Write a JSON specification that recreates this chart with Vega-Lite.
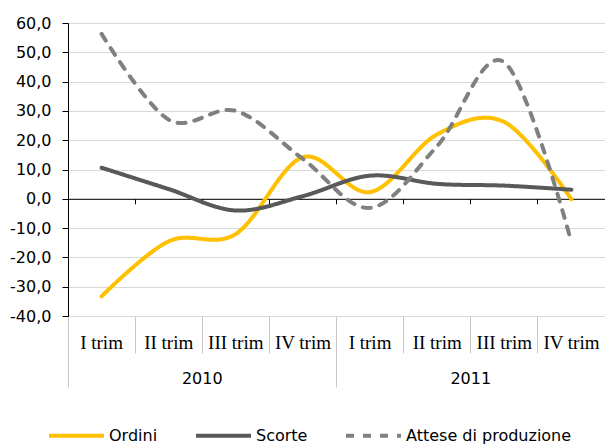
{
  "$schema": "https://vega.github.io/schema/vega-lite/v6.json",
  "width": 537,
  "height": 293,
  "autosize": {"type": "none"},
  "padding": {"left": 68, "top": 23, "right": 0, "bottom": 129},
  "background": "white",
  "config": {
    "view": {"stroke": null},
    "font": "DejaVu Sans",
    "legend": {
      "orient": "none",
      "legendX": -21,
      "legendY": 383,
      "direction": "horizontal",
      "title": null,
      "padding": 0,
      "symbolType": "stroke",
      "symbolSize": 3025,
      "symbolStrokeWidth": 4,
      "labelFont": "DejaVu Sans",
      "labelFontSize": 16,
      "labelColor": "#000000",
      "labelOffset": 3,
      "columnPadding": 30,
      "labelLimit": 0
    }
  },
  "data": {
    "values": [
      {"periodo": "2010 I trim", "serie": "Ordini", "valore": -33.3},
      {"periodo": "2010 II trim", "serie": "Ordini", "valore": -14.5},
      {"periodo": "2010 III trim", "serie": "Ordini", "valore": -12.0},
      {"periodo": "2010 IV trim", "serie": "Ordini", "valore": 14.2},
      {"periodo": "2011 I trim", "serie": "Ordini", "valore": 2.3},
      {"periodo": "2011 II trim", "serie": "Ordini", "valore": 22.0},
      {"periodo": "2011 III trim", "serie": "Ordini", "valore": 26.2},
      {"periodo": "2011 IV trim", "serie": "Ordini", "valore": -0.2},
      {"periodo": "2010 I trim", "serie": "Scorte", "valore": 10.6},
      {"periodo": "2010 II trim", "serie": "Scorte", "valore": 3.3},
      {"periodo": "2010 III trim", "serie": "Scorte", "valore": -4.0},
      {"periodo": "2010 IV trim", "serie": "Scorte", "valore": 0.9},
      {"periodo": "2011 I trim", "serie": "Scorte", "valore": 7.9},
      {"periodo": "2011 II trim", "serie": "Scorte", "valore": 5.1},
      {"periodo": "2011 III trim", "serie": "Scorte", "valore": 4.5},
      {"periodo": "2011 IV trim", "serie": "Scorte", "valore": 3.1},
      {"periodo": "2010 I trim", "serie": "Attese di produzione", "valore": 56.3},
      {"periodo": "2010 II trim", "serie": "Attese di produzione", "valore": 27.0},
      {"periodo": "2010 III trim", "serie": "Attese di produzione", "valore": 30.0},
      {"periodo": "2010 IV trim", "serie": "Attese di produzione", "valore": 13.6},
      {"periodo": "2011 I trim", "serie": "Attese di produzione", "valore": -3.1},
      {"periodo": "2011 II trim", "serie": "Attese di produzione", "valore": 18.0},
      {"periodo": "2011 III trim", "serie": "Attese di produzione", "valore": 46.6},
      {"periodo": "2011 IV trim", "serie": "Attese di produzione", "valore": -14.8}
    ]
  },
  "encoding": {
    "y": {
      "field": "valore",
      "type": "quantitative",
      "scale": {"domain": [-40, 60], "nice": false, "zero": false},
      "axis": {
        "title": null,
        "values": [-40, -30, -20, -10, 0, 10, 20, 30, 40, 50, 60],
        "labelExpr": "(datum.value < 0 ? '-' : '') + replace(format(abs(datum.value), '.1f'), '.', ',')",
        "labelFont": "DejaVu Sans",
        "labelFontSize": 16,
        "labelColor": "#000000",
        "labelPadding": 11,
        "tickSize": 6,
        "tickColor": "#000000",
        "domainColor": "#000000",
        "grid": true,
        "gridColor": "#D9D9D9"
      }
    },
    "color": {
      "field": "serie",
      "type": "nominal",
      "scale": {
        "domain": ["Ordini", "Scorte", "Attese di produzione"],
        "range": ["#FFC000", "#595959", "#808080"]
      }
    },
    "strokeDash": {
      "field": "serie",
      "type": "nominal",
      "scale": {
        "domain": ["Ordini", "Scorte", "Attese di produzione"],
        "range": [[1, 0], [1, 0], [8, 9]]
      }
    }
  },
  "layer": [
    {
      "transform": [{"filter": "datum.serie === 'Ordini'"}],
      "mark": {"type": "line", "interpolate": "cardinal", "strokeWidth": 4, "strokeCap": "round"},
      "encoding": {
        "x": {
          "field": "periodo",
          "type": "ordinal",
          "bandPosition": 0.5,
          "scale": {
            "type": "band",
            "paddingInner": 0,
            "paddingOuter": 0,
            "domain": ["2010 I trim", "2010 II trim", "2010 III trim", "2010 IV trim", "2011 I trim", "2011 II trim", "2011 III trim", "2011 IV trim"]
          },
          "axis": {
            "orient": "bottom",
            "title": null,
            "bandPosition": 0,
            "labelOffset": 0,
            "labelExpr": "substring(datum.label, 5)",
            "labelFont": "Liberation Serif",
            "labelFontSize": 19,
            "labelColor": "#000000",
            "labelAngle": 0,
            "labelAlign": "center",
            "labelBaseline": "middle",
            "labelPadding": -10.7,
            "labelOverlap": false,
            "labelBound": false,
            "labelFlush": false,
            "tickSize": 37,
            "tickColor": "#C8C8C8",
            "domain": false,
            "grid": false
          }
        }
      }
    },
    {
      "transform": [{"filter": "datum.serie === 'Scorte'"}],
      "mark": {"type": "line", "interpolate": "cardinal", "strokeWidth": 4, "strokeCap": "round"},
      "encoding": {
        "x": {
          "field": "periodo",
          "type": "ordinal",
          "bandPosition": 0.5,
          "axis": {
            "orient": "bottom",
            "title": null,
            "values": ["2010 I trim", "2011 I trim"],
            "bandPosition": 0,
            "labelOffset": 100.69,
            "labelExpr": "substring(datum.label, 0, 4)",
            "labelFont": "DejaVu Sans",
            "labelFontSize": 16,
            "labelColor": "#000000",
            "labelAngle": 0,
            "labelAlign": "center",
            "labelBaseline": "middle",
            "labelPadding": -9,
            "labelOverlap": false,
            "labelBound": false,
            "labelFlush": false,
            "tickSize": 71,
            "tickColor": "#C8C8C8",
            "domain": false,
            "grid": false
          }
        }
      }
    },
    {
      "transform": [{"filter": "datum.serie === 'Attese di produzione'"}],
      "mark": {"type": "line", "interpolate": "cardinal", "strokeWidth": 4, "strokeCap": "round"},
      "encoding": {
        "x": {
          "field": "periodo",
          "type": "ordinal",
          "bandPosition": 0.5,
          "axis": {
            "orient": "bottom",
            "title": null,
            "offset": -117.2,
            "bandPosition": 0,
            "labels": false,
            "tickSize": 5,
            "tickColor": "#000000",
            "domain": true,
            "domainColor": "#000000",
            "grid": false
          }
        }
      }
    }
  ],
  "resolve": {"axis": {"x": "independent"}}
}
